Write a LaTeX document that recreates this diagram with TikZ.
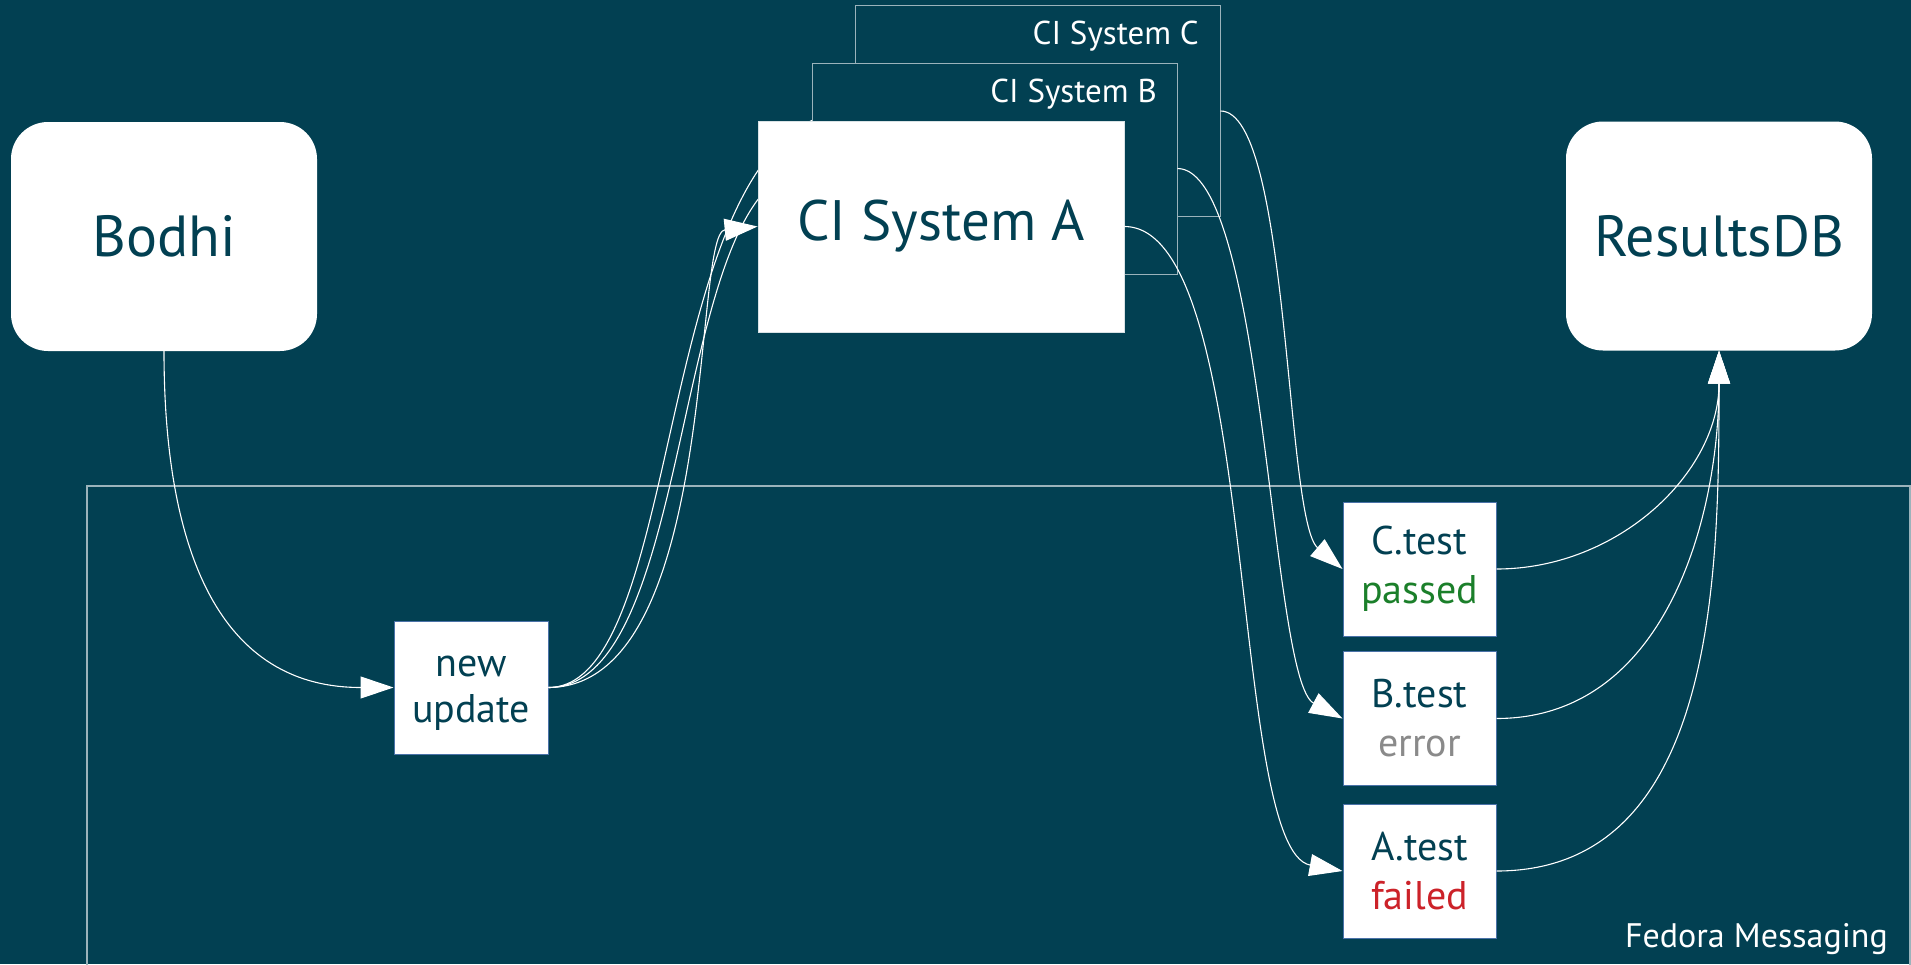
\documentclass[tikz,border=0pt]{standalone}
\usepackage{fontspec}
\setmainfont{PT Sans}
\usetikzlibrary{arrows.meta}
\definecolor{bg}{HTML}{024052}
\definecolor{frameline}{HTML}{9BB3BB}
\definecolor{boxline}{HTML}{4A72A8}
\definecolor{okgreen}{HTML}{1B7F2A}
\definecolor{errgray}{HTML}{8A8A8A}
\definecolor{failred}{HTML}{CC2229}
\tikzset{
  bigbox/.style={fill=white, rounded corners=37pt, minimum width=306pt, minimum height=229pt, inner sep=0pt, text=bg, font=\fontsize{58}{60}\selectfont},
  cibox/.style={draw=frameline, line width=1pt, fill=bg, minimum width=365pt, minimum height=211pt, inner sep=0pt},
  ciabox/.style={fill=white, draw=white!85!bg, line width=0.8pt, minimum width=366pt, minimum height=211pt, inner sep=0pt, text=bg, font=\fontsize{57}{60}\selectfont},
  cilabel/.style={text=white, font=\fontsize{33}{36}\selectfont, inner sep=0pt},
  msgbox/.style={fill=white, draw=boxline, line width=1pt, minimum width=154pt, minimum height=133pt, inner sep=0pt, text=bg, align=center, font=\fontsize{40}{46}\selectfont},
  testbox/.style={msgbox, minimum width=153pt, minimum height=134pt, font=\fontsize{40}{49}\selectfont},
  flow/.style={draw=white, line width=1.1pt, -{Triangle[length=33pt,width=22pt]}},
  flowback/.style={draw=white, line width=1.1pt},
}
\begin{document}
\begin{tikzpicture}[x=1pt,y=-1pt]
\fill[bg] (0,0) rectangle (1911,964);
\useasboundingbox (0,0) rectangle (1911,964);
% Fedora Messaging frame
\draw[frameline, line width=1.5pt] (1910,1010) -- (1910,486) -- (87,486) -- (87,1010);
\node[anchor=base east, text=white, font=\fontsize{34}{36}\selectfont, inner sep=0pt] (fm) at (1888,947) {Fedora Messaging};
% main nodes
\node[bigbox] (bodhi) at (164,236.5) {Bodhi};
\node[bigbox] (rdb) at (1719,236) {ResultsDB};
\node[msgbox, text height=78pt, text depth=8pt] (new) at (471,687.5) {new\\update};
\node[testbox] (ct) at (1419.5,569) {C.test\\\textcolor{okgreen}{passed}};
\node[testbox] (bt) at (1419.5,718.5) {B.test\\\textcolor{errgray}{error}};
\node[testbox] (at) at (1419.5,871) {A.test\\\textcolor{failred}{failed}};
% Bodhi -> new update
\draw[flow] (bodhi.south) to[out=-90, in=180, looseness=1.15] (new.west);
% CI systems stacked (the heads of the arrows into B and C lie hidden behind the boxes in front)
\node[cibox] (cic) at (1037.5,111) {};
\node[cilabel, anchor=east] (labc) at (1199,36) {CI System C};
\draw[flowback] (new.east) .. controls (690,687) and (650,111) .. (cic.west);
\node[cibox] (cib) at (994.5,168.5) {};
\node[cilabel, anchor=east] (labb) at (1157,94) {CI System B};
\draw[flowback] (new.east) .. controls (700,687) and (668,168.5) .. (cib.west);
\node[ciabox] (cia) at (941,226.5) {CI System A};
\draw[flow] (new.east) .. controls (720,687) and (692,233) .. (cia.west);
% CI -> results messages
\draw[flow] (cic.east) .. controls (1290,111) and (1285,520) .. (ct.west);
\draw[flow] (cib.east) .. controls (1265,169) and (1270,680) .. (bt.west);
\draw[flow] (cia.east) .. controls (1260,227) and (1228,850) .. (at.west);
% results -> ResultsDB
\draw[flow] (ct.east) to[out=0, in=-90] (rdb.south);
\draw[flow] (bt.east) to[out=0, in=-90] (rdb.south);
\draw[flow] (at.east) to[out=0, in=-90] (rdb.south);
\end{tikzpicture}
\end{document}
